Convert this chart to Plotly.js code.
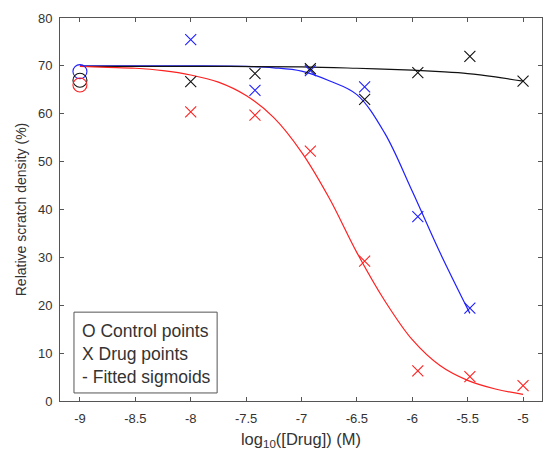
<!DOCTYPE html>
<html>
<head>
<meta charset="utf-8">
<script src="https://cdn.plot.ly/plotly-3.0.1.min.js"></script>
<style>
  html, body { margin: 0; padding: 0; background: #fff; }
  #chart { width: 544px; height: 451px; }
</style>
</head>
<body>
<div id="chart"></div>
<script>
// Control wells (no drug), plotted at the left edge
const controlX = [-9, -9, -9];
const controlBlue = [68.8];
const controlBlack = [67.0];
const controlRed = [66.0];

// Drug concentrations, log10 molar
const drugX = [-8, -7.42, -6.92, -6.43, -5.95, -5.48, -5];
const drugBlue = [75.5, 64.9, 69.0, 65.6, 38.5, 19.4];
const drugBlack = [66.7, 68.4, 69.4, 63.0, 68.6, 72.0, 66.8];
const drugRed = [60.4, 59.7, 52.2, 29.2, 6.3, 5.1, 3.2];

// Fitted sigmoid curves
const fitBlueX = [-9, -8.5, -8, -7.5, -7.25, -7, -6.75, -6.5, -6.25, -6, -5.75, -5.48];
const fitBlueY = [70.0, 70.0, 70.0, 69.9, 69.6, 68.9, 66.9, 64.0, 56.0, 43.8, 31.0, 18.3];
const fitBlackX = [-9, -8, -7, -6.5, -6, -5.75, -5.5, -5.25, -5];
const fitBlackY = [69.9, 69.9, 69.8, 69.5, 69.1, 68.8, 68.4, 67.7, 66.8];
const fitRedX = [-9, -8.75, -8.5, -8.25, -8, -7.75, -7.5, -7.25, -7, -6.75, -6.5, -6.25, -6, -5.75, -5.5, -5.25, -5];
const fitRedY = [69.9, 69.7, 69.5, 69.0, 68.1, 66.6, 63.8, 59.2, 52.0, 42.4, 31.0, 21.0, 12.8, 7.4, 4.3, 2.5, 1.4];

// Axis ticks
const xTickVals = [-9, -8.5, -8, -7.5, -7, -6.5, -6, -5.5, -5];
const xTickText = ['-9', '-8.5', '-8', '-7.5', '-7', '-6.5', '-6', '-5.5', '-5'];
const yTickVals = [0, 10, 20, 30, 40, 50, 60, 70, 80];

const legendLines = ['O Control points', 'X Drug points', '- Fitted sigmoids'];

const BLUE = '#1f1fff';
const BLACK = '#111111';
const RED = '#ff2020';
const FONT = 'Liberation Sans, Arial, sans-serif';

function fit(x, y, color) {
  return { x: x, y: y, type: 'scatter', mode: 'lines',
    line: { color: color, width: 1.2, shape: 'spline', smoothing: 1 } };
}
function crosses(x, y, color) {
  return { x: x.slice(0, y.length), y: y, type: 'scatter', mode: 'markers',
    marker: { symbol: 'x-thin-open', size: 11, color: color, line: { color: color, width: 1.1 } } };
}
function rings(x, y, color) {
  return { x: x.slice(0, y.length), y: y, type: 'scatter', mode: 'markers',
    marker: { symbol: 'circle-open', size: 14, color: color, line: { color: color, width: 1.1 } } };
}

const traces = [
  fit(fitBlueX, fitBlueY, BLUE),
  fit(fitBlackX, fitBlackY, BLACK),
  fit(fitRedX, fitRedY, RED),
  crosses(drugX, drugBlue, BLUE),
  crosses(drugX, drugBlack, BLACK),
  crosses(drugX, drugRed, RED),
  rings(controlX, controlBlue, BLUE),
  rings(controlX, controlBlack, BLACK),
  rings(controlX, controlRed, RED)
];

const axisCommon = {
  showline: true, mirror: 'ticks', linecolor: '#555555', linewidth: 1,
  ticks: 'inside', ticklen: 4, tickwidth: 1, tickcolor: '#555555',
  showgrid: false, zeroline: false,
  tickfont: { family: FONT, size: 13, color: '#333333' }
};

const legendY = [0.183, 0.124, 0.063];
const annotations = legendLines.map((t, i) => ({
  xref: 'paper', yref: 'paper', x: 0.0425, y: legendY[i], xanchor: 'left', yanchor: 'middle',
  text: t, showarrow: false,
  font: { family: FONT, size: 17.5, color: '#333333' }
}));

const layout = {
  width: 544, height: 451,
  margin: { l: 60, r: 2, t: 18, b: 50 },
  paper_bgcolor: '#ffffff', plot_bgcolor: '#ffffff',
  showlegend: false,
  xaxis: Object.assign({}, axisCommon, {
    range: [-9.18, -4.829], tickvals: xTickVals, ticktext: xTickText,
    ticklabelstandoff: 5,
    title: { text: 'log<sub>10</sub>([Drug]) (M)', standoff: 8,
      font: { family: FONT, size: 16.5, color: '#333333' } }
  }),
  yaxis: Object.assign({}, axisCommon, {
    range: [0, 80], tickvals: yTickVals,
    ticklabelstandoff: 4,
    title: { text: 'Relative scratch density (%)', standoff: 8,
      font: { family: FONT, size: 14, color: '#333333' } }
  }),
  shapes: [{
    type: 'rect', xref: 'paper', yref: 'paper', x0: 0.029, x1: 0.326, y0: 0.021, y1: 0.232,
    line: { color: '#555555', width: 1 }, fillcolor: '#ffffff', layer: 'above'
  }],
  annotations: annotations
};

Plotly.newPlot('chart', traces, layout, { displayModeBar: false, staticPlot: true });
</script>
</body>
</html>
